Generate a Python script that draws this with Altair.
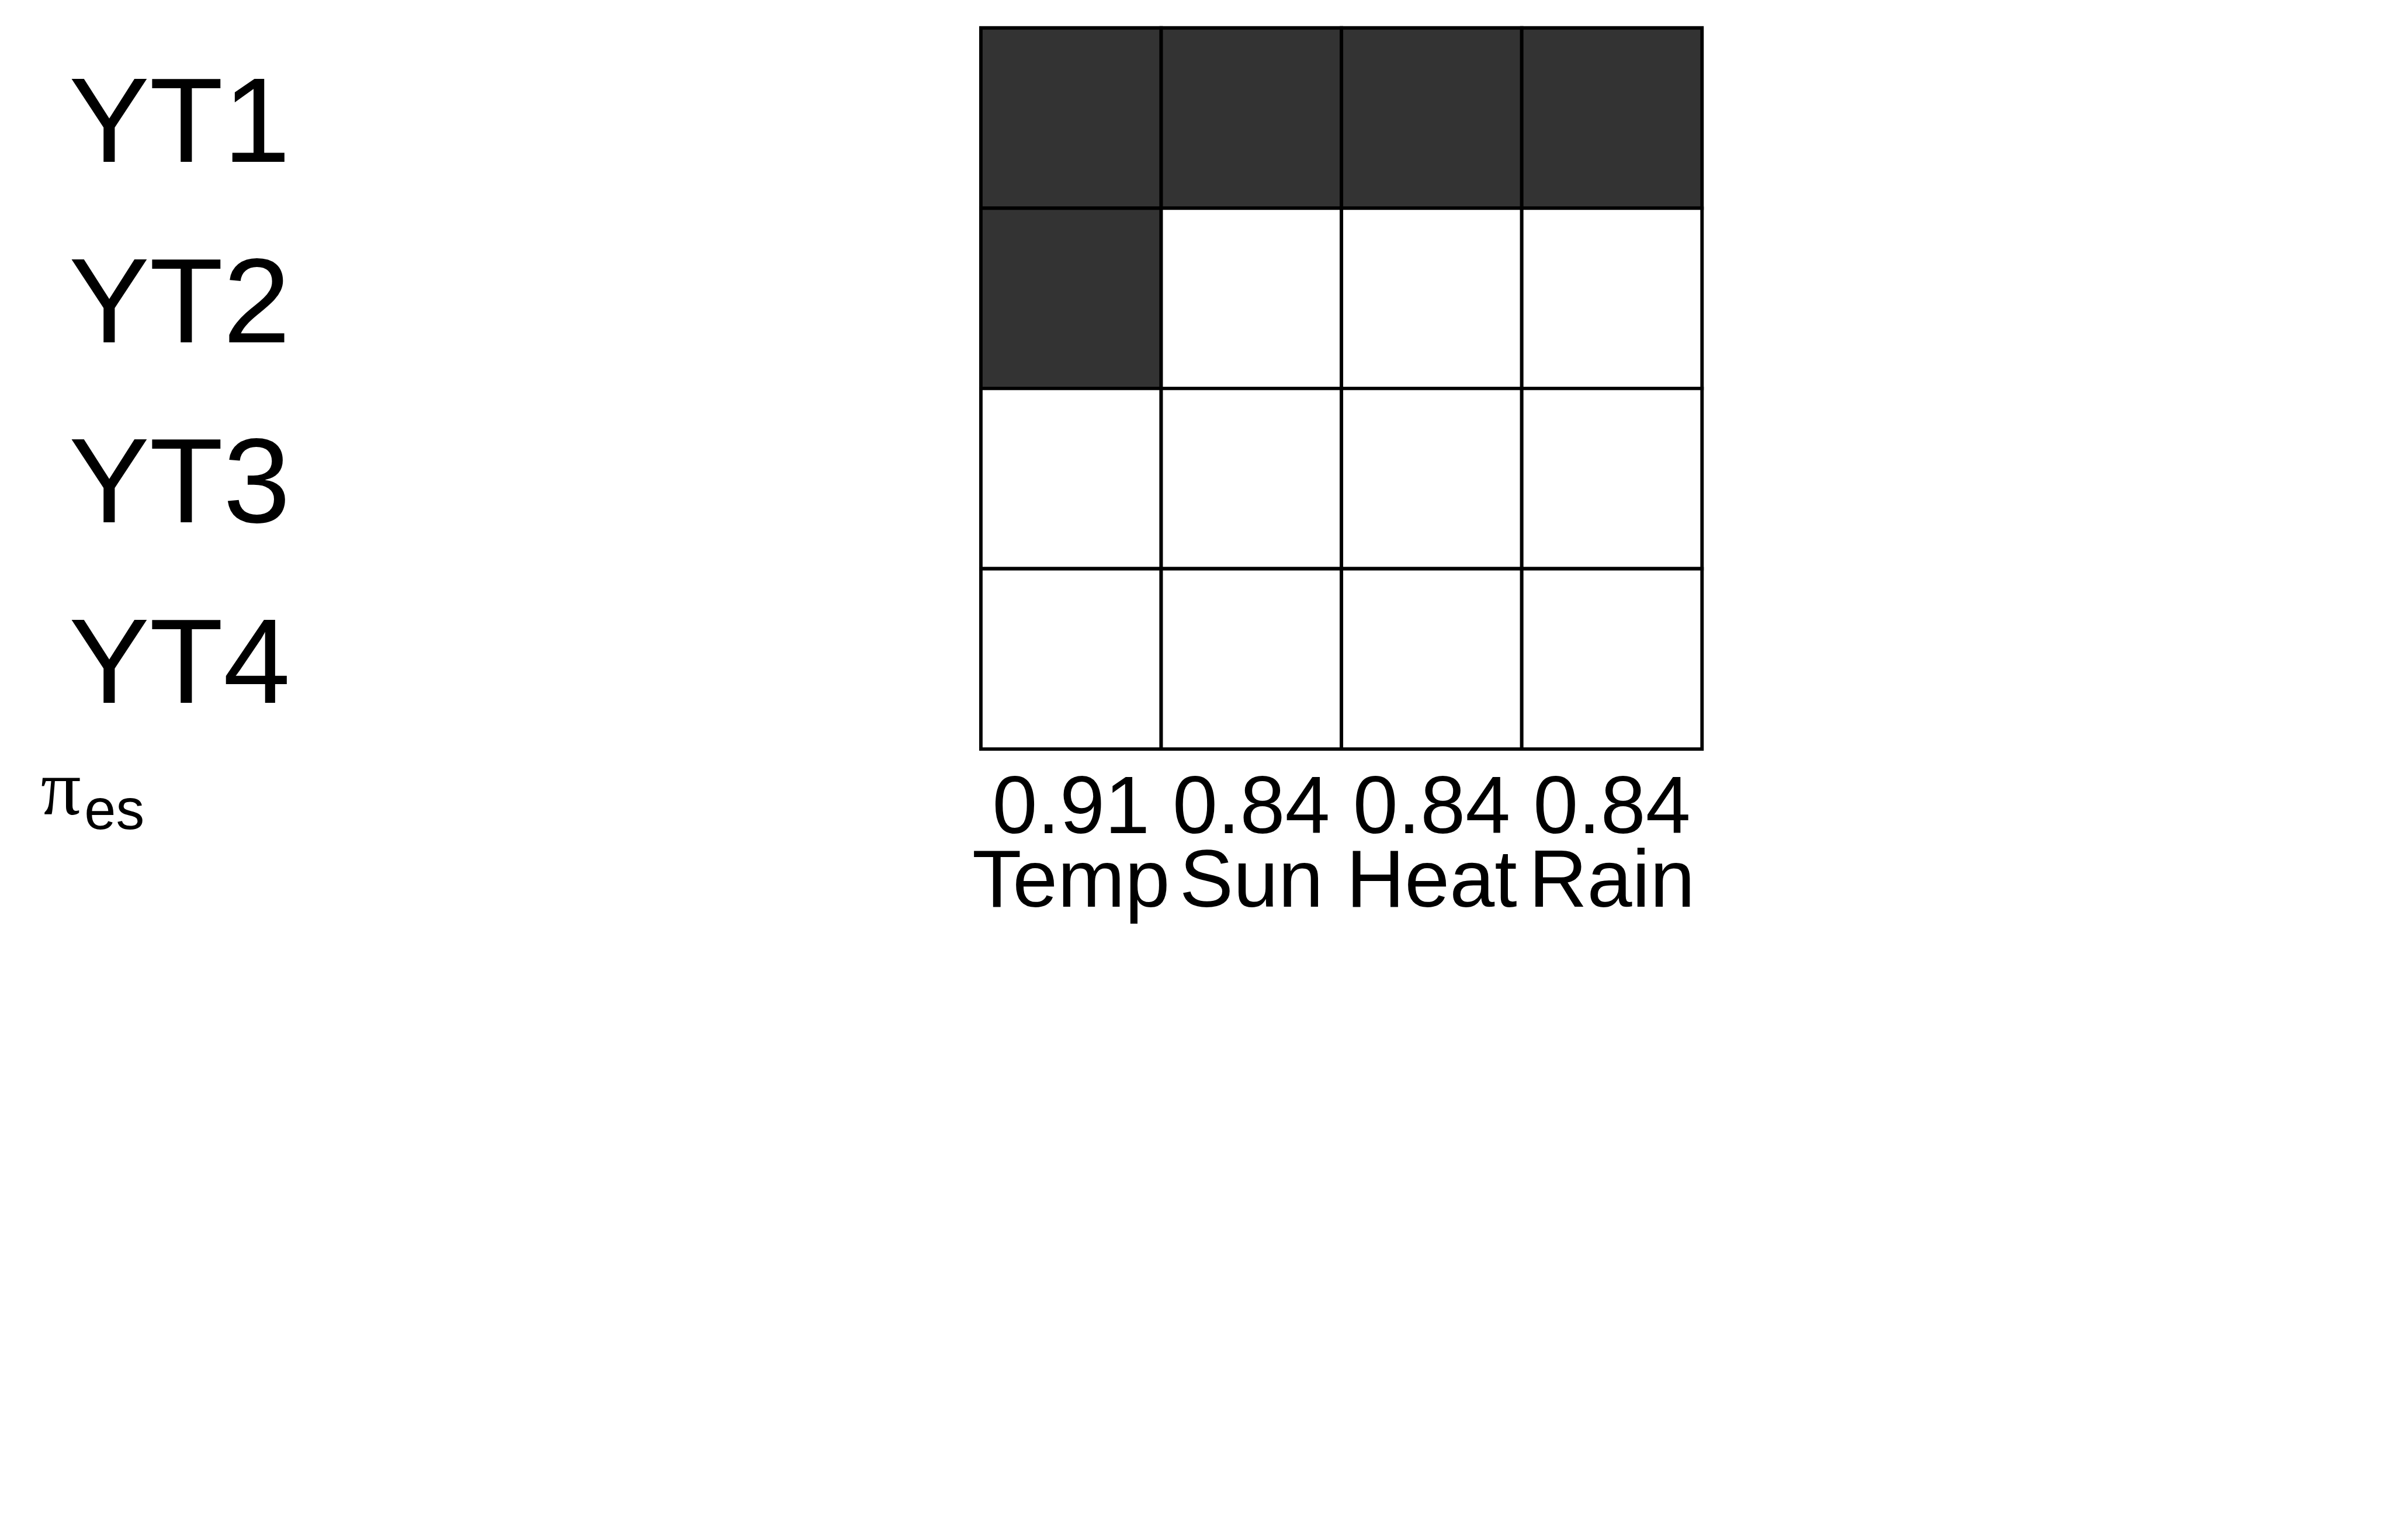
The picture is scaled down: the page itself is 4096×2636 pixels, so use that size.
import altair as alt
import pandas as pd

rows = ["YT1", "YT2", "YT3", "YT4"]
cols = ["Temp", "Sun", "Heat", "Rain"]
pi_values = ["0.91", "0.84", "0.84", "0.84"]
# 1 = included (dark), 0 = not included (white)
membership = [
    [1, 1, 1, 1],
    [1, 0, 0, 0],
    [0, 0, 0, 0],
    [0, 0, 0, 0],
]

S = 0.975
records = []
for i, r in enumerate(rows):
    for j, c in enumerate(cols):
        records.append({
            "row": r,
            "col": pi_values[j] + "\n" + c,
            "on": membership[i][j],
        })
df = pd.DataFrame(records)
col_order = [pi_values[j] + "\n" + c for j, c in enumerate(cols)]

plot_left = 1722 * S
plot_top = 49 * S
side = 1266 * S
W, H = 4096, 2636

chart = alt.Chart(df).mark_rect(stroke="black", strokeWidth=6 * S).encode(
    x=alt.X("col:N", sort=col_order,
            scale=alt.Scale(paddingInner=0, paddingOuter=0),
            axis=alt.Axis(
                orient="bottom", domain=False, ticks=False, tickSize=0,
                labelExpr="split(datum.label, '\\n')",
                labelFont="Liberation Sans", labelFontSize=142 * S,
                labelLineHeight=129.5 * S, labelBaseline="alphabetic",
                labelAlign="center", labelPadding=1425.2 - 1315 * S,
                labelColor="black", labelLimit=2000, labelOverlap=False,
                labelAngle=0,
                title="π", titleFont="Liberation Serif", titleFontSize=140 * S,
                titleFontWeight="normal", titleColor="black", titleAngle=0,
                titleAlign="left", titleBaseline="alphabetic",
                titleX=71 * S - plot_left, titleY=1429 * S - 1315 * S,
            )),
    y=alt.Y("row:N", sort=rows,
            scale=alt.Scale(paddingInner=0, paddingOuter=0),
            axis=alt.Axis(
                orient="left", domain=False, ticks=False, tickSize=0,
                labelFont="Liberation Sans", labelFontSize=212 * S,
                labelBaseline="alphabetic", labelAlign="left",
                labelPadding=plot_left - 120.5 * S, labelOffset=77 * S,
                labelColor="black", labelLimit=2000, labelOverlap=False,
                title="es", titleFont="Liberation Sans", titleFontSize=100 * S,
                titleFontWeight="normal", titleColor="black", titleAngle=0,
                titleAlign="left", titleBaseline="alphabetic",
                titleX=147.5 * S - plot_left, titleY=1455 * S - plot_top,
            )),
    fill=alt.Fill("on:N", scale=alt.Scale(domain=[0, 1], range=["white", "#333333"]),
                  legend=None),
).properties(
    width=side, height=side,
    autosize=alt.AutoSizeParams(type="none"),
    padding={"left": plot_left, "top": plot_top,
             "right": W - plot_left - side, "bottom": H - plot_top - side},
    background="white",
).configure_view(stroke=None)

chart.save("out.html", embed_options={"renderer": "svg", "actions": False})
